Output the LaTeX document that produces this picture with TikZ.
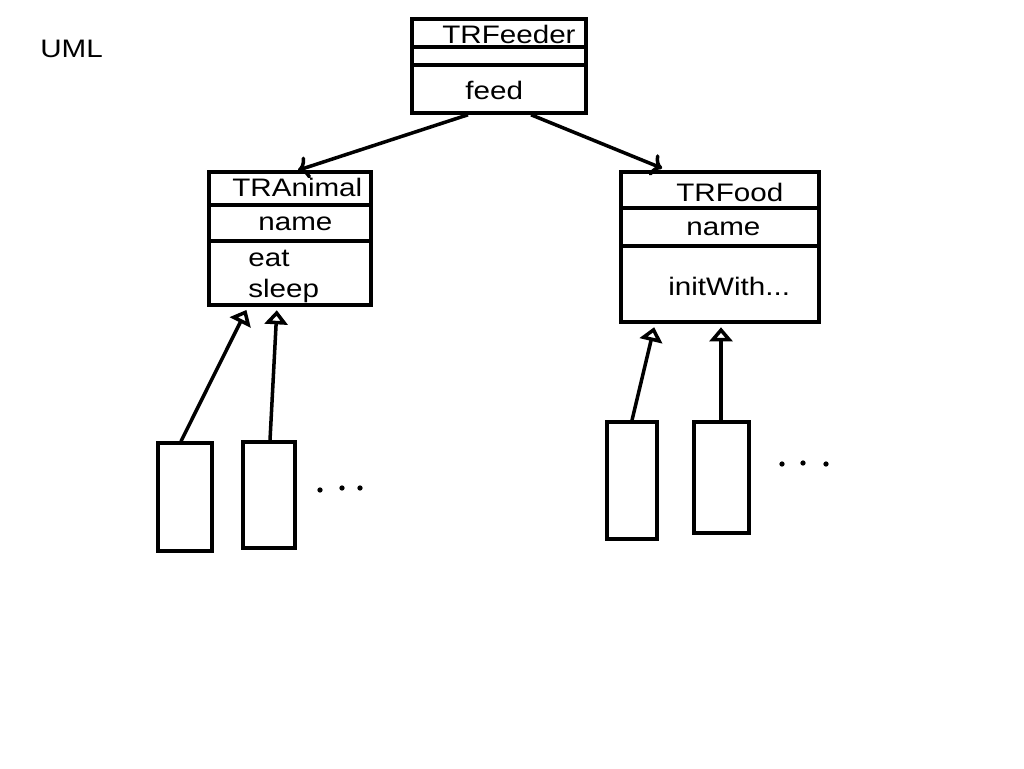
\documentclass[tikz,border=0pt]{standalone}
\usepackage{fontspec}
\setmainfont{Liberation Sans}[FakeStretch=1.17]
\usetikzlibrary{arrows.meta,fit}
\tikzset{
	classbox/.style={draw, line width=2pt, inner sep=0pt},
	divider/.style={line width=2pt},
	txt/.style={anchor=base west, inner sep=0pt, font=\fontsize{14.4}{17}\selectfont},
	assoc/.style={line width=2pt, -{To[length=6pt,width=13pt]}},
	inherit/.style={line width=2pt, shorten >=2pt, -{Triangle[open,length=8pt,width=13pt]}},
}

\begin{document}
\begin{tikzpicture}[x=0.02cm, y=-0.02cm]
		%%%%% FRAME %%%%%
		\fill[white] (0,0) rectangle (1024,768);
		\useasboundingbox (0,0) rectangle (1024,768);
		
		\node[txt] (uml) at (40,57) {UML};
		
		%%%%% TRFeeder %%%%%
		\node[classbox, fit={(412,19) (586,113)}] (feeder) {};
		\draw[divider] (feeder.west |- 0,47) -- (feeder.east |- 0,47);
		\draw[divider] (feeder.west |- 0,65) -- (feeder.east |- 0,65);
		\node[txt] (feedername) at (442,43) {TRFeeder};
		\node[txt] (feedop) at (465,99) {feed};
		
		%%%%% TRAnimal %%%%%
		\node[classbox, fit={(209,172) (371,305)}] (animal) {};
		\draw[divider] (animal.west |- 0,205) -- (animal.east |- 0,205);
		\draw[divider] (animal.west |- 0,241) -- (animal.east |- 0,241);
		\node[txt] (animalname) at (232,196) {TRAnimal};
		\node[txt] (animalattr) at (258,230) {name};
		\node[txt] (animaleat) at (248,266) {eat};
		\node[txt] (animalsleep) at (248,297) {sleep};
		
		%%%%% TRFood %%%%%
		\node[classbox, fit={(621,172) (819,322)}] (food) {};
		\draw[divider] (food.west |- 0,208) -- (food.east |- 0,208);
		\draw[divider] (food.west |- 0,246) -- (food.east |- 0,246);
		\node[txt] (foodname) at (676,201) {TRFood};
		\node[txt] (foodattr) at (686,235) {name};
		\node[txt] (foodinit) at (668,295) {initWith...};
		
		%%%%% SUBCLASSES %%%%%
		\node[classbox, fit={(158,443) (212,551)}] (suba) {};
		\node[classbox, fit={(243,442) (295,548)}] (subb) {};
		\node[classbox, fit={(607,422) (657,539)}] (subc) {};
		\node[classbox, fit={(694,422) (749,533)}] (subd) {};
		
		\fill (320,490) circle[radius=1.5pt];
		\fill (342,488) circle[radius=1.5pt];
		\fill (360,488) circle[radius=1.5pt];
		\fill (782,464) circle[radius=1.5pt];
		\fill (803,463) circle[radius=1.5pt];
		\fill (826,464) circle[radius=1.5pt];
		
		%%%%% CONNECTORS %%%%%
		\draw[assoc] (feeder.south -| 468,0) -- (animal.north -| 298,0);
		\draw[assoc, shorten >=3pt] (feeder.south -| 531,0) -- (food.north -| 667,0);
		
		\draw[inherit] (suba.north -| 181,0) -- (animal.south -| 248,0);
		\draw[inherit] (subb.north -| 270,0) -- (animal.south -| 277,0);
		\draw[inherit] (subc.north -| 632,0) -- (food.south -| 655,0);
		\draw[inherit] (subd.north -| 721,0) -- (food.south -| 721,0);
		%%%%% END %%%%%
	\end{tikzpicture}
\end{document}
